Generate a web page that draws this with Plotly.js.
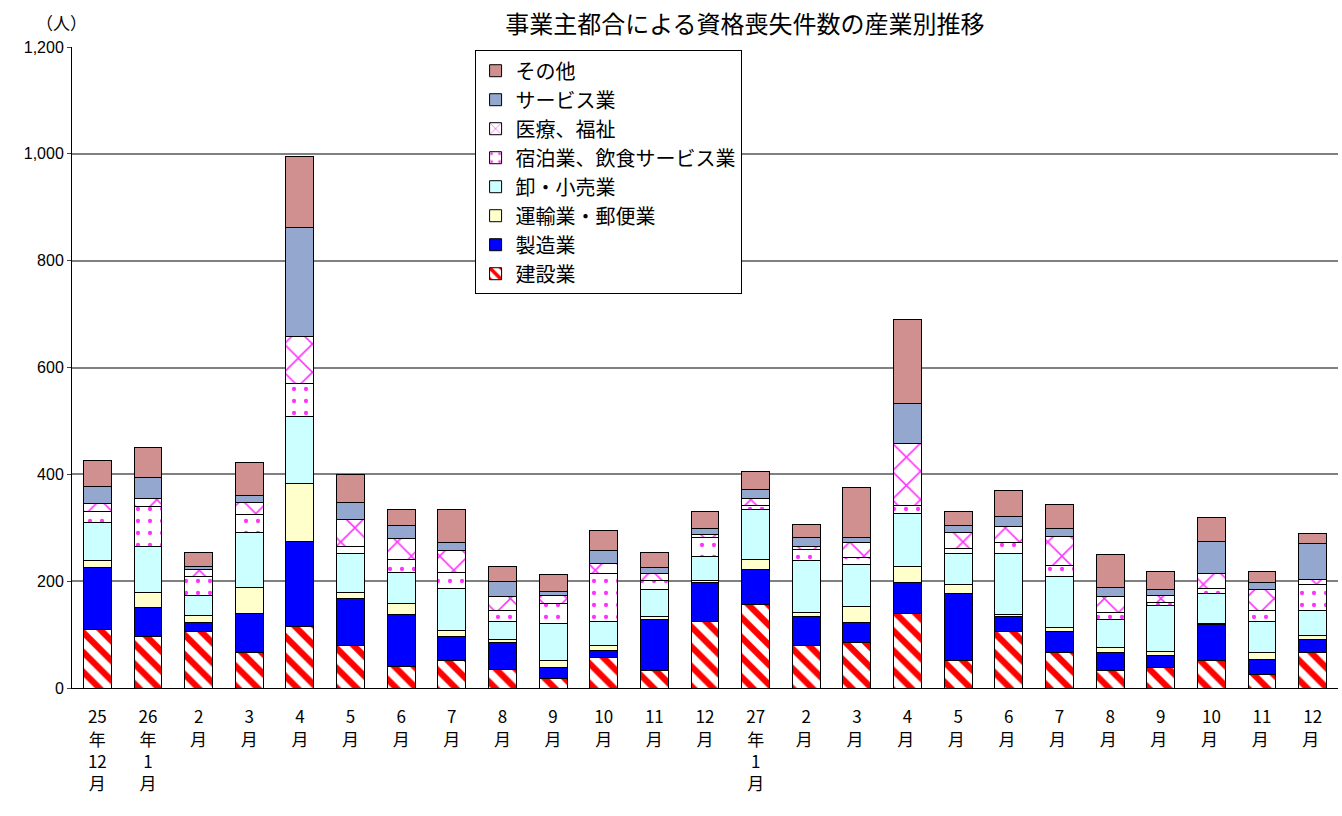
<!DOCTYPE html>
<html>
<head>
<meta charset="utf-8">
<script src="https://cdn.plot.ly/plotly-3.0.1.min.js"></script>
<style>body{margin:0;background:#fff}#chart{width:1342px;height:816px}</style>
</head>
<body>
<div id="chart"></div>
<script>
var months = ['25<br>年<br>12<br>月', '26<br>年<br>1<br>月', '2<br>月', '3<br>月', '4<br>月', '5<br>月', '6<br>月', '7<br>月', '8<br>月', '9<br>月', '10<br>月', '11<br>月', '12<br>月',
  '27<br>年<br>1<br>月', '2<br>月 ', '3<br>月 ', '4<br>月 ', '5<br>月 ', '6<br>月 ', '7<br>月 ', '8<br>月 ', '9<br>月 ', '10<br>月 ', '11<br>月 ', '12<br>月 '];

var kensetsu = [110, 96, 105, 67, 116, 79, 41, 52, 34, 17, 57, 33, 124, 157, 79, 85, 139, 51, 105, 66, 32, 38, 51, 25, 66];
var seizou   = [115, 54, 17, 73, 159, 88, 96, 44, 52, 21, 13, 96, 74, 65, 55, 38, 58, 125, 29, 39, 35, 22, 67, 28, 24];
var unyu     = [13, 28, 13, 49, 107, 11, 21, 11, 4, 14, 9, 5, 4, 19, 8, 29, 31, 17, 4, 8, 8, 9, 3, 13, 9];
var oroshi   = [71, 86, 39, 103, 127, 74, 58, 79, 34, 69, 46, 51, 45, 94, 96, 80, 99, 58, 113, 95, 54, 86, 55, 59, 47];
var shukuhaku = [21, 75, 34, 32, 61, 13, 24, 30, 22, 37, 90, 17, 34, 6, 21, 13, 14, 10, 22, 22, 13, 6, 11, 21, 47];
var iryou    = [16, 15, 13, 24, 88, 50, 39, 42, 25, 16, 19, 12, 7, 14, 5, 28, 117, 31, 30, 54, 29, 13, 28, 39, 11];
var service  = [32, 41, 6, 12, 204, 33, 26, 15, 29, 6, 23, 11, 11, 17, 17, 9, 74, 13, 19, 15, 18, 11, 60, 12, 66];
var sonota   = [47, 56, 26, 63, 133, 52, 30, 62, 27, 32, 38, 28, 32, 34, 25, 93, 158, 25, 47, 44, 60, 34, 45, 22, 20];

function mkTrace(name, vals, color, pattern) {
  var marker = { color: color, line: { color: '#000', width: 1 } };
  if (pattern) marker.pattern = pattern;
  return { type: 'bar', name: name, x: months, y: vals, width: 0.55, marker: marker };
}

var traces = [
  mkTrace('建設業', kensetsu, '#fff', { shape: '\\', fgcolor: '#ff0000', bgcolor: '#fff', size: 14, solidity: 0.45 }),
  mkTrace('製造業', seizou, '#0000ff'),
  mkTrace('運輸業・郵便業', unyu, '#ffffcc'),
  mkTrace('卸・小売業', oroshi, '#ccffff'),
  mkTrace('宿泊業、飲食サービス業', shukuhaku, '#fff', { shape: '.', fgcolor: '#ff33ff', bgcolor: '#fff', size: 12, solidity: 0.1 }),
  mkTrace('医療、福祉', iryou, '#fff', { shape: 'x', fgcolor: '#ff33ff', bgcolor: '#fff', size: 20, solidity: 0.15 }),
  mkTrace('サービス業', service, '#94a8cf'),
  mkTrace('その他', sonota, '#d09090')
];

var layout = {
  width: 1342, height: 816,
  barmode: 'stack',
  paper_bgcolor: '#fff', plot_bgcolor: '#fff',
  font: { family: '"Noto Sans CJK JP", "DejaVu Sans", sans-serif', color: '#000', size: 16 },
  title: { text: '事業主都合による資格喪失件数の産業別推移', x: 0.555, xanchor: 'center', y: 0.97, yanchor: 'middle', font: { size: 24 } },
  margin: { l: 72, r: 4, t: 47, b: 128 },
  xaxis: { type: 'category', showline: true, linecolor: '#000', ticks: 'outside', ticklen: 0, ticklabelstandoff: 14, tickfont: { size: 17 }, tickangle: 0 },
  yaxis: { range: [0, 1200], dtick: 200, tickformat: ',d', showgrid: true, gridcolor: '#808080', gridwidth: 1.5,
    showline: true, linecolor: '#000', ticks: 'outside', ticklen: 4, tickfont: { family: 'Arial, "Liberation Sans", sans-serif', size: 16 } },
  legend: { x: 0.318, y: 0.995, xanchor: 'left', yanchor: 'top', traceorder: 'reversed', bordercolor: '#000', borderwidth: 1,
    bgcolor: '#fff', font: { size: 20 }, itemwidth: 30 },
  bargap: 0.4,
  annotations: [{ text: '（人）', xref: 'paper', yref: 'paper', x: -0.03, y: 1.039, xanchor: 'left', yanchor: 'middle', showarrow: false, font: { size: 17 } }]
};

Plotly.newPlot('chart', traces, layout, { displayModeBar: false });
</script>
</body>
</html>
